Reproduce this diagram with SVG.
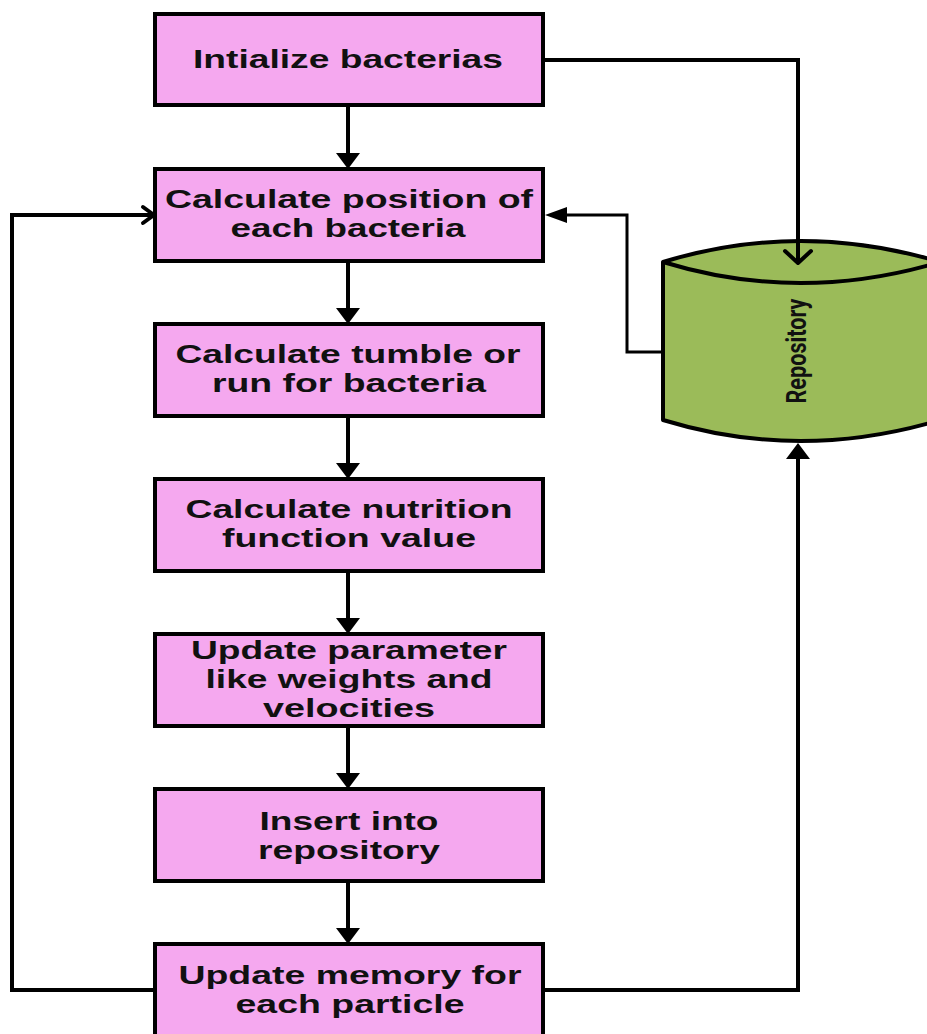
<svg xmlns="http://www.w3.org/2000/svg" width="927" height="1034" viewBox="0 0 927 1034">
  <style>
    .box { fill: #F5A8EF; stroke: #000; stroke-width: 4; }
    .lbl { font-family: "Liberation Sans", Arial, sans-serif; font-weight: bold; font-size: 25px; fill: #111; text-anchor: middle; }
    .wire { fill: none; stroke: #000; stroke-width: 4; }
    .thin { fill: none; stroke: #000; stroke-width: 3; }
    .head { fill: #000; stroke: none; }
    .open { fill: none; stroke: #000; stroke-width: 4; stroke-linecap: round; stroke-linejoin: round; }
  </style>
  <rect width="927" height="1034" fill="#fff"/>

  <!-- repository store -->
  <g id="repository">
    <path d="M663 262 Q800 220 940 262 V420 Q800 462 663 420 Z" fill="#9BBB59" stroke="#000" stroke-width="4" stroke-linejoin="round"/>
    <path d="M663 262 Q800 304 940 262" fill="none" stroke="#000" stroke-width="4"/>
    <text transform="translate(806,351) rotate(-90)" text-anchor="middle" font-family="Roboto, 'Liberation Sans', sans-serif" font-weight="bold" font-size="28" fill="#111" textLength="105" lengthAdjust="spacingAndGlyphs">Repository</text>
  </g>

  <!-- connectors -->
  <g id="connectors">
    <!-- downward flow between steps -->
    <path class="wire" d="M348 105 V155 M348 261 V310 M348 416 V465 M348 571 V620 M348 726 V775 M348 881 V930"/>
    <polygon class="head" points="336,153 360,153 348,169"/>
    <polygon class="head" points="336,308 360,308 348,324"/>
    <polygon class="head" points="336,463 360,463 348,479"/>
    <polygon class="head" points="336,618 360,618 348,634"/>
    <polygon class="head" points="336,773 360,773 348,789"/>
    <polygon class="head" points="336,928 360,928 348,944"/>

    <!-- loop back from memory update -->
    <path class="wire" d="M155 990 H12 V215 H153"/>
    <path class="open" d="M143 207 L154 215 L143 223"/>

    <!-- initialise into repository -->
    <path class="wire" d="M543 60 H798 V262"/>
    <path class="open" d="M785 251 L798 263 L811 251"/>

    <!-- repository feeding position calculation -->
    <path class="thin" d="M663 352 H627 V215 H560"/>
    <polygon class="head" points="545,215 567,207 567,223"/>

    <!-- memory update into repository -->
    <path class="wire" d="M543 990 H798 V455"/>
    <polygon class="head" points="786,459 810,459 798,443"/>
  </g>

  <g id="init">
    <rect class="box" x="155" y="14" width="388" height="91"/>
    <text class="lbl" x="348" y="68" textLength="310" lengthAdjust="spacingAndGlyphs">Intialize bacterias</text>
  </g>

  <g id="position">
    <rect class="box" x="155" y="169" width="388" height="92"/>
    <text class="lbl" x="349" y="208" textLength="368" lengthAdjust="spacingAndGlyphs">Calculate position of</text>
    <text class="lbl" x="348" y="237" textLength="235" lengthAdjust="spacingAndGlyphs">each bacteria</text>
  </g>

  <g id="tumble">
    <rect class="box" x="155" y="324" width="388" height="92"/>
    <text class="lbl" x="348" y="363" textLength="345" lengthAdjust="spacingAndGlyphs">Calculate tumble or</text>
    <text class="lbl" x="349" y="392" textLength="274" lengthAdjust="spacingAndGlyphs">run for bacteria</text>
  </g>

  <g id="nutrition">
    <rect class="box" x="155" y="479" width="388" height="92"/>
    <text class="lbl" x="349" y="518" textLength="327" lengthAdjust="spacingAndGlyphs">Calculate nutrition</text>
    <text class="lbl" x="349" y="547" textLength="254" lengthAdjust="spacingAndGlyphs">function value</text>
  </g>

  <g id="parameters">
    <rect class="box" x="155" y="634" width="388" height="92"/>
    <text class="lbl" x="349" y="659" textLength="316" lengthAdjust="spacingAndGlyphs">Update parameter</text>
    <text class="lbl" x="349" y="688" textLength="287" lengthAdjust="spacingAndGlyphs">like weights and</text>
    <text class="lbl" x="349" y="717" textLength="172" lengthAdjust="spacingAndGlyphs">velocities</text>
  </g>

  <g id="insert">
    <rect class="box" x="155" y="789" width="388" height="92"/>
    <text class="lbl" x="349" y="830" textLength="179" lengthAdjust="spacingAndGlyphs">Insert into</text>
    <text class="lbl" x="349" y="859" textLength="182" lengthAdjust="spacingAndGlyphs">repository</text>
  </g>

  <g id="memory">
    <rect class="box" x="155" y="944" width="388" height="100"/>
    <text class="lbl" x="350" y="984" textLength="343" lengthAdjust="spacingAndGlyphs">Update memory for</text>
    <text class="lbl" x="350" y="1013" textLength="229" lengthAdjust="spacingAndGlyphs">each particle</text>
  </g>
</svg>
